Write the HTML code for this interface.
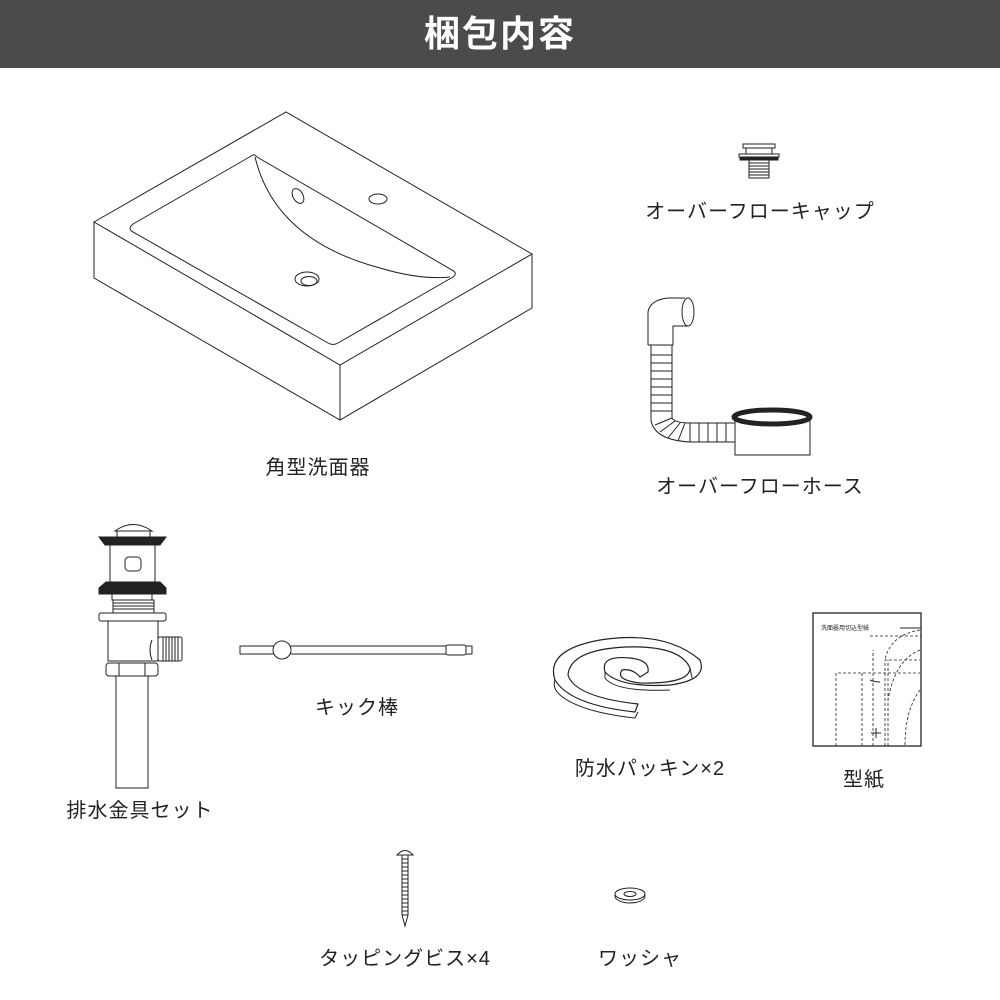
<!DOCTYPE html>
<html><head><meta charset="utf-8"><style>
html,body{margin:0;padding:0;background:#fff}
.hd{position:absolute;left:0;top:0;width:1000px;height:68px;background:#4b4b4b;color:#fff;font:bold 36px "Liberation Sans","Noto Sans CJK JP",sans-serif;text-align:center;line-height:68px;letter-spacing:2px}
svg{position:absolute;left:0;top:0}
.t{font-family:"Liberation Sans","Noto Sans CJK JP",sans-serif;font-size:20px;letter-spacing:1px;fill:#222;text-anchor:middle}
</style></head><body>
<div class="hd">梱包内容</div>
<svg width="1000" height="1000" viewBox="0 0 1000 1000" fill="none" stroke="#222" stroke-width="1">
<!-- sink -->
<path d="M94 222 L286 112 L532 254 L340 365 Z"/>
<path d="M94 222 L94 278 L340 420 L532 308 L532 254 M340 365 L340 420"/>
<path d="M253 155 L133 224 Q127 229 133 232 L328 343 Q333 346 338 343 L453 277 Q458 273 452 270 L257 157 Q254 154 253 155"/>
<path d="M255 157 Q275 240 380 268 Q420 280 450 277"/>
<ellipse cx="307" cy="279" rx="12" ry="7"/><ellipse cx="309" cy="281" rx="8" ry="4.5"/>
<ellipse cx="298" cy="196" rx="5" ry="8" transform="rotate(-30 298 196)"/>
<ellipse cx="378" cy="199" rx="9" ry="5"/>
<!-- overflow cap -->
<rect x="743" y="144" width="32" height="4"/><rect x="746" y="148" width="26" height="6"/>
<rect x="739" y="154" width="40" height="3"/><rect x="740" y="157" width="38" height="3" fill="#222"/>
<rect x="749" y="160" width="20" height="18"/>
<path d="M749 163H769M749 166H769M749 169H769M749 172H769M749 175H769"/>
<!-- overflow hose -->
<path d="M648 345 L648 312 Q650 300 668 298 L685 298 M648 345 L673 345 L673 326 L688 326"/>
<ellipse cx="688" cy="312" rx="6" ry="14"/>
<path d="M651 345 L651 420 Q654 440 690 442 L735 442 M672 345 L672 418 Q675 423 690 423 L735 423"/>
<path d="M651 355H672M651 363H672M651 371H672M651 379H672M651 387H672M651 395H672M651 403H672M651 411H672M690 423V442M699 423V442M708 423V442M717 423V442M726 423V442M655 425L672 418M660 432L675 421M668 438L680 423M678 441L685 423"/>
<path d="M735 417 L735 455 L810 455 L810 417"/>
<ellipse cx="772" cy="417" rx="38" ry="7" stroke-width="5"/>
<!-- drain set -->
<path d="M115 531 Q133 518 152 531 Z" fill="#fff"/><rect x="117" y="531" width="33" height="6"/>
<path d="M99 537 L166 537 L160 545 L105 545 Z" fill="#222"/>
<rect x="110" y="545" width="45" height="37"/><rect x="125" y="557" width="16" height="14" rx="4"/>
<path d="M99 588 L106 582 L160 582 L166 588 L166 594 L99 594 Z" fill="#222"/>
<rect x="112" y="594" width="40" height="6"/>
<rect x="113" y="600" width="41" height="13"/>
<path d="M113 603H154M113 606H154M113 609H154"/>
<rect x="99" y="613" width="67" height="8" rx="2"/>
<rect x="108" y="621" width="50" height="40"/>
<path d="M152 640 Q148 650 152 660"/>
<rect x="158" y="637" width="24" height="24" rx="2"/>
<path d="M163 637V661M166 637V661M169 637V661M172 637V661M175 637V661M178 637V661"/>
<rect x="106" y="663" width="52" height="13" rx="3"/><path d="M119 663V676M145 663V676"/>
<rect x="116" y="676" width="32" height="112"/>
<!-- kick rod -->
<rect x="240" y="646" width="232" height="8" fill="#fff"/>
<circle cx="282" cy="650" r="9" fill="#fff"/>
<rect x="446" y="645" width="20" height="10" rx="2" fill="#fff"/>
<!-- gasket -->
<path d="M635 712 Q570 705 555 680 Q545 650 600 640 Q665 630 700 660 Q708 680 670 685 Q620 688 605 672 Q600 655 630 658 Q650 660 648 672 L640 677 Q632 668 622 670 Q615 680 640 683 Q690 684 690 668 Q680 645 625 647 Q570 650 568 675 Q575 697 638 704 Z" stroke-width="1.2"/>
<path d="M555 680 Q552 688 560 695 Q580 712 635 718 L638 712 M690 668 L692 678 M605 672 L605 678 Q615 692 670 690"/>
<!-- template -->
<rect x="813" y="613" width="108" height="133" stroke-width="1.3"/>
<text x="821" y="630" font-size="6" fill="#222" stroke="none" font-family="Noto Sans CJK JP,sans-serif">洗面器用切込型紙</text>
<g stroke-dasharray="3 2" stroke-width="0.8">
<path d="M836 746V673H920M862 746V673M873 746V650M885 746V660H920M888 746V660M920 630Q890 635 885 660M920 650Q895 660 888 700M920 690Q905 710 905 746M870 636L921 636"/>
</g>
<path d="M900 628H921M870 680Q875 682 880 682"/>
<path d="M871 733H881M876 728V738"/>
<!-- screw -->
<path d="M397 855 Q405 846 413 855 Z"/>
<rect x="402" y="855" width="6" height="60"/>
<path d="M402 859H408M402 863H408M402 867H408M402 871H408M402 875H408M402 879H408M402 883H408M402 887H408M402 891H408M402 895H408M402 899H408M402 903H408M402 907H408M402 911H408M402 915L405 926L408 915"/>
<!-- washer -->
<ellipse cx="630" cy="896" rx="15" ry="7"/><ellipse cx="630" cy="894" rx="15" ry="6" fill="#fff"/><ellipse cx="630" cy="894" rx="6" ry="2.5"/>
<g stroke="none">
<text class="t" x="318" y="474">角型洗面器</text>
<text class="t" x="760" y="218">オーバーフローキャップ</text>
<text class="t" x="760" y="493">オーバーフローホース</text>
<text class="t" x="357" y="714">キック棒</text>
<text class="t" x="650" y="775">防水パッキン×2</text>
<text class="t" x="864" y="786">型紙</text>
<text class="t" x="140" y="817">排水金具セット</text>
<text class="t" x="405" y="965">タッピングビス×4</text>
<text class="t" x="640" y="965">ワッシャ</text>
</g>
</svg>
</body></html>
